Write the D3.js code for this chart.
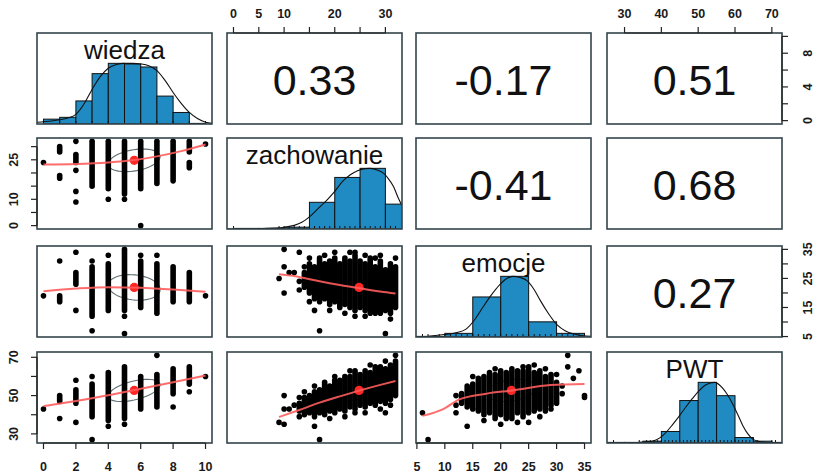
<!DOCTYPE html>
<html><head><meta charset="utf-8">
<script src="https://cdn.jsdelivr.net/npm/d3@7"></script>
<style>body{margin:0;background:#fff}svg{display:block}</style>
</head><body><svg id="c" width="814" height="476"></svg>
<script>
// ---------------- DATA ----------------
const variables = ["wiedza", "zachowanie", "emocje", "PWT"];
const dataRanges = [[0, 10], [0, 32], [6, 35], [27, 71]];
const means = [5.6, 24.8, 21.9, 52.7];
const sds = [1.6, 4.3, 4.4, 5.8];
const correlations = [
  [1, 0.33, -0.17, 0.51],
  [0.33, 1, -0.41, 0.68],
  [-0.17, -0.41, 1, 0.27],
  [0.51, 0.68, 0.27, 1]
];

// histograms (bar heights normalised to max = 1), density curves, rugs
const wiedzaBreaks = [0,1,2,3,4,5,6,7,8,9,10];
const wiedzaBars = [0.08,0.11,0.38,0.83,1.0,0.99,0.94,0.46,0.19,0.01];
const wiedzaDensity = [[-0.4,0.03],[0.5,0.05],[1,0.07],[1.5,0.1],[2,0.16],[2.5,0.33],[3,0.57],[3.5,0.78],[4,0.92],[4.5,0.98],[5,1.0],[5.5,1.0],[6,0.99],[6.5,0.96],[7,0.88],[7.5,0.72],[8,0.52],[8.5,0.34],[9,0.19],[9.5,0.09],[10,0.03],[10.4,0.01]];
const wiedzaRug = [0,1,2,3,4,5,6,7,8,9,10];

const zachBreaks = [0,5,10,15,20,25,30,35];
const zachBars = [0.01,0.01,0.03,0.44,0.85,1.0,0.41];
const zachDensity = [[-1.3,0],[5,0.005],[8,0.015],[10,0.03],[12,0.06],[13.5,0.11],[15,0.2],[16.5,0.32],[18.5,0.48],[20,0.62],[21.5,0.78],[23,0.89],[24.5,0.96],[26,0.995],[27,1.0],[28.5,0.97],[29.6,0.92],[30.5,0.84],[31.6,0.7],[32.5,0.52],[33.3,0.38]];
const zachRug = [0,9,10,11,12,13,14,15,16,17,18,19,20,21,22,23,24,25,26,27,28,29,30,31,32];

const emoBreaks = [5,10,15,20,25,30,35];
const emoBars = [0.01,0.06,0.66,1.0,0.25,0.06];
const emoDensity = [[4.8,0],[7,0.01],[9.9,0.04],[12,0.07],[13.8,0.13],[15.3,0.28],[16.8,0.49],[18.3,0.69],[19.8,0.86],[21,0.96],[22.2,1.0],[23.5,0.98],[24.7,0.93],[26,0.78],[27.1,0.6],[28.6,0.38],[30.1,0.2],[31.6,0.1],[33.1,0.05],[36.2,0.01]];
const emoRug = [6,7,9,10,11,12,13,14,15,16,17,18,19,20,21,22,23,24,25,26,27,28,29,30,31,32,33,34,35];

const pwtBreaks = [25,30,35,40,45,50,55,60,65,70,75];
const pwtBars = [0.01,0.01,0.03,0.19,0.7,1.0,0.78,0.09,0.03,0.01];
const pwtDensity = [[25,0],[32,0.005],[35,0.015],[37.5,0.03],[39.5,0.08],[41.2,0.17],[43,0.3],[44.8,0.44],[46.6,0.59],[48.4,0.73],[50.2,0.86],[52.1,0.96],[54.4,1.0],[56.7,0.9],[58,0.79],[59.4,0.64],[60.8,0.46],[62.1,0.29],[63.5,0.15],[64.9,0.06],[67,0.02],[70.4,0],[72.8,0]];
const pwtRug = [27,34,36,37,38,39,40,41,42,43,44,45,46,47,48,49,50,51,52,53,54,55,56,57,58,59,60,61,62,63,64,65,66,70,71];

// scatter panels: stacks [x, yLow, yHigh] of overlapping points, single points [x, y], loess smooth
const wzStacks = [[3,15,32],[4,14,32],[5,12,32],[6,14,32],[7,16,32],[8,17,32],[9,28,32],[9,22,24],[2,24,27],[1,18,19],[1,28,30]];
const wzPoints = [[0,24],[2,32],[2,21],[2,13],[2,9],[4,10],[5,10],[6,0],[10,31]];
const wzSmooth = [[0,23.2],[2,23.4],[4,24],[5.6,24.9],[7,26.3],[8.5,28.3],[10,30.8]];

const weStacks = [[2,23,27],[3,12,29],[4,14,30],[5,14,35],[6,15,31],[7,13,30],[8,17,29],[9,17,27],[1,17,19]];
const wePoints = [[0,19],[1,31],[2,34],[2,14],[3,31],[3,7],[4,33],[5,12],[5,6],[6,33],[7,33],[10,19]];
const weSmooth = [[0,20.6],[2,21.5],[4,22],[6,21.8],[8,21.2],[10,20.4]];

const wpStacks = [[1,47,50],[2,46,53],[3,39,56],[4,37,62],[5,38,65],[6,43,60],[7,44,61],[8,51,64],[9,56,65]];
const wpPoints = [[0,43],[1,38],[2,58],[2,36],[3,60],[3,27],[4,34],[5,35],[7,71],[8,44],[9,52],[10,60]];
const wpSmooth = [[0,44.5],[2,47.2],[4,50.2],[6,53.6],[8,57],[10,60.5]];

const zeStacks = [[14,22,27],[15,20,30],[16,18,29],[17,17,32],[18,18,30],[19,16,31],[20,17,32],[21,15,30],[22,16,32],[23,15,31],[24,14,33],[25,15,31],[26,14,30],[27,13,32],[28,14,29],[29,13,31],[30,14,28],[31,13,30],[32,15,29]];
const zePoints = [[10,35],[13,34],[10,29],[11,27],[9,25],[10,20],[13,21],[14,29],[16,14],[17,7],[24,34],[28,32],[32,32],[24,12],[30,6],[28,13],[18,33],[15,17],[19,14],[22,13],[26,12],[31,11],[20,34],[23,34],[26,33],[29,33],[15,32],[12,27],[13,24]];
const zeSmooth = [[9,26.4],[13,25.5],[17,24],[21,22.7],[25,21.6],[29,20.5],[32,19.8]];

const zpStacks = [[13,42,46],[14,40,49],[15,41,50],[16,39,52],[17,41,53],[18,40,56],[19,42,55],[20,41,58],[21,43,58],[22,42,60],[23,44,60],[24,43,62],[25,45,61],[26,44,63],[27,46,62],[28,45,64],[29,47,65],[30,46,64],[31,48,66],[32,50,68]];
const zpPoints = [[9,36],[10,35],[10,50],[10,43],[11,43],[13,49],[13,39],[16,34],[17,27],[32,71],[28,65],[24,63],[18,57],[30,41],[24,41],[12,45],[14,52],[16,55],[19,38],[22,39],[26,41],[29,43],[31,45],[20,60],[23,63],[27,66],[30,68]];
const zpSmooth = [[9,38.8],[13,42.5],[17,46.3],[21,49.6],[25,52.7],[29,55.6],[32,57.6]];

const epStacks = [[13,46,51],[14,44,55],[15,43,56],[16,42,59],[17,40,60],[18,41,62],[19,38,61],[20,40,63],[21,39,62],[22,38,64],[23,41,63],[24,39,63],[25,41,65],[26,42,62],[27,43,63],[28,42,60],[29,45,61],[30,46,57]];
const epPoints = [[6,41],[7,27],[12,45],[12,41],[13,48],[14,34],[16,43],[20,35],[21,38],[25,36],[29,43],[31,51],[32,71],[32,65],[34,63],[33,59],[35,49],[35,50],[24,65],[28,64],[12,50],[15,60],[17,37],[23,36],[27,39],[30,61],[31,55],[26,66],[19,64]];
const epSmooth = [[6,39.4],[9.6,42.8],[12.6,48],[17.4,51],[22.1,52.7],[28.9,55.5],[35,56.1]];

// axes: tick values and shown labels
const wiedzaBottomTicks = [0,2,4,6,8,10];
const wiedzaBottomLabels = ["0","2","4","6","8","10"];
const emoBottomTicks = [5,10,15,20,25,30,35];
const emoBottomLabels = ["5","10","15","20","25","30","35"];
const zachTopTicks = [0,5,10,15,20,25,30];
const zachTopLabels = ["0","5","10","","20","","30"];
const pwtTopTicks = [30,40,50,60,70];
const pwtTopLabels = ["30","40","50","60","70"];
const zachLeftTicks = [0,5,10,15,20,25,30];
const zachLeftLabels = ["0","","10","","","25",""];
const pwtLeftTicks = [30,40,50,60,70];
const pwtLeftLabels = ["30","","50","","70"];
const wiedzaRightTicks = [0,2,4,6,8,10];
const wiedzaRightLabels = ["0","","4","","8",""];
const emoRightTicks = [5,10,15,20,25,30,35];
const emoRightLabels = ["5","","15","","25","","35"];

// ---------------- LAYOUT / STYLE ----------------
const colLeft = [37, 227, 416, 607], rowTop = [33, 138, 246, 352];
const PW = 175, PH = 91;
const FONT = "'Liberation Sans', Arial, Helvetica, sans-serif";
const HIST_COL = "#1f8bc2", BOX_COL = "#34454c", RED = "#ff2626", SMOOTH_COL = "#ff5c5c";

const svg = d3.select("#c");
svg.append("rect").attr("width", 814).attr("height", 476).attr("fill", "#fff");

function usr(r) { const d = r[1] - r[0]; return [r[0] - 0.04 * d, r[1] + 0.04 * d]; }
const xScales = dataRanges.map((r, j) => d3.scaleLinear().domain(usr(r)).range([colLeft[j], colLeft[j] + PW]));
const yScales = dataRanges.map((r, i) => d3.scaleLinear().domain(usr(r)).range([rowTop[i] + PH, rowTop[i]]));
const hScales = rowTop.map(t => d3.scaleLinear().domain([0, 1.5]).range([t + PH, t]));

const defs = svg.append("defs");
for (let i = 0; i < 4; i++) for (let j = 0; j < 4; j++) {
  defs.append("clipPath").attr("id", `clip${i}${j}`).append("rect")
    .attr("x", colLeft[j]).attr("y", rowTop[i]).attr("width", PW).attr("height", PH);
}

// ---------- histograms ----------
const hists = [
  { breaks: wiedzaBreaks, bars: wiedzaBars, density: wiedzaDensity, rug: wiedzaRug },
  { breaks: zachBreaks, bars: zachBars, density: zachDensity, rug: zachRug },
  { breaks: emoBreaks, bars: emoBars, density: emoDensity, rug: emoRug },
  { breaks: pwtBreaks, bars: pwtBars, density: pwtDensity, rug: pwtRug }
];
hists.forEach((h, k) => {
  const xs = xScales[k], hs = hScales[k];
  const g = svg.append("g").attr("clip-path", `url(#clip${k}${k})`);
  g.selectAll("rect").data(h.bars).join("rect")
    .attr("x", (d, n) => xs(h.breaks[n]))
    .attr("width", (d, n) => xs(h.breaks[n + 1]) - xs(h.breaks[n]))
    .attr("y", d => hs(d)).attr("height", d => hs(0) - hs(d))
    .attr("fill", HIST_COL).attr("stroke", "#111").attr("stroke-width", 1);
  g.selectAll("line.rug").data(h.rug).join("line").attr("class", "rug")
    .attr("x1", d => xs(d)).attr("x2", d => xs(d))
    .attr("y1", hs(0)).attr("y2", hs(0) - 3)
    .attr("stroke", "#111").attr("stroke-width", 1);
  g.append("path").datum(h.density)
    .attr("d", d3.line().x(d => xs(d[0])).y(d => hs(d[1])).curve(d3.curveMonotoneX))
    .attr("fill", "none").attr("stroke", "#111").attr("stroke-width", 1.1);
  svg.append("text").attr("x", colLeft[k] + PW / 2).attr("y", rowTop[k] + 26)
    .attr("text-anchor", "middle").attr("font-family", FONT).attr("font-size", 26)
    .attr("fill", "#111").text(variables[k]);
});

// ---------- scatter panels ----------
const scatterPanels = [
  { i: 1, j: 0, stacks: wzStacks, points: wzPoints, smooth: wzSmooth },
  { i: 2, j: 0, stacks: weStacks, points: wePoints, smooth: weSmooth },
  { i: 3, j: 0, stacks: wpStacks, points: wpPoints, smooth: wpSmooth },
  { i: 2, j: 1, stacks: zeStacks, points: zePoints, smooth: zeSmooth },
  { i: 3, j: 1, stacks: zpStacks, points: zpPoints, smooth: zpSmooth },
  { i: 3, j: 2, stacks: epStacks, points: epPoints, smooth: epSmooth }
];
const R = 2.8;
scatterPanels.forEach(p => {
  const xs = xScales[p.j], ys = yScales[p.i];
  const g = svg.append("g").attr("clip-path", `url(#clip${p.i}${p.j})`);
  // correlation ellipse (psych::draw.ellipse), drawn beneath the points
  const r = correlations[p.i][p.j];
  const th = (r >= 0 ? 1 : -1) / Math.SQRT2;
  const a1 = Math.sqrt(1 + r) * th, a2 = Math.sqrt(1 - r) * th;
  const ell = d3.range(0, 52).map(s => {
    const a = s * 2 * Math.PI / 51;
    const ex = Math.cos(a) * a1 - Math.sin(a) * a2;
    const ey = Math.cos(a) * a1 + Math.sin(a) * a2;
    return [means[p.j] + ex * sds[p.j], means[p.i] + ey * sds[p.i]];
  });
  g.append("path").datum(ell)
    .attr("d", d3.line().x(d => xs(d[0])).y(d => ys(d[1])))
    .attr("fill", "none").attr("stroke", "#5f6f74").attr("stroke-width", 1.1);
  g.selectAll("line.st").data(p.stacks).join("line").attr("class", "st")
    .attr("x1", d => xs(d[0])).attr("x2", d => xs(d[0]))
    .attr("y1", d => ys(d[1])).attr("y2", d => ys(d[2]))
    .attr("stroke", "#000").attr("stroke-width", 2 * R).attr("stroke-linecap", "round");
  g.selectAll("circle.pt").data(p.points).join("circle").attr("class", "pt")
    .attr("cx", d => xs(d[0])).attr("cy", d => ys(d[1])).attr("r", R).attr("fill", "#000");
  g.append("circle").attr("cx", xs(means[p.j])).attr("cy", ys(means[p.i])).attr("r", 4.6).attr("fill", RED);
  g.append("path").datum(p.smooth)
    .attr("d", d3.line().x(d => xs(d[0])).y(d => ys(d[1])).curve(d3.curveMonotoneX))
    .attr("fill", "none").attr("stroke", SMOOTH_COL).attr("stroke-width", 2).attr("stroke-opacity", 0.9);
});

// ---------- correlation panels ----------
for (let i = 0; i < 4; i++) for (let j = i + 1; j < 4; j++) {
  svg.append("text").attr("x", colLeft[j] + PW / 2).attr("y", rowTop[i] + PH / 2 + 16)
    .attr("text-anchor", "middle").attr("font-family", FONT).attr("font-size", 43)
    .attr("fill", "#111").text(correlations[i][j].toFixed(2));
}

// ---------- panel boxes ----------
for (let i = 0; i < 4; i++) for (let j = 0; j < 4; j++) {
  svg.append("rect").attr("x", colLeft[j]).attr("y", rowTop[i]).attr("width", PW).attr("height", PH)
    .attr("fill", "none").attr("stroke", BOX_COL).attr("stroke-width", 1.6);
}

// ---------- axes ----------
function drawAxis(side, scale, ticks, labels, pos) {
  const g = svg.append("g");
  const vertical = side === "left" || side === "right";
  const dir = (side === "top" || side === "left") ? -1 : 1;
  const tl = 6;
  const p0 = scale(ticks[0]), p1 = scale(ticks[ticks.length - 1]);
  if (vertical) g.append("line").attr("x1", pos).attr("x2", pos).attr("y1", p0).attr("y2", p1);
  else g.append("line").attr("y1", pos).attr("y2", pos).attr("x1", p0).attr("x2", p1);
  ticks.forEach((t, n) => {
    const q = scale(t);
    if (vertical) g.append("line").attr("x1", pos).attr("x2", pos + dir * tl).attr("y1", q).attr("y2", q);
    else g.append("line").attr("y1", pos).attr("y2", pos + dir * tl).attr("x1", q).attr("x2", q);
    if (!labels[n]) return;
    const txt = g.append("text").attr("font-family", FONT).attr("font-size", 12.5).attr("font-weight", "bold")
      .attr("fill", "#1a1a1a").attr("text-anchor", "middle").text(labels[n]);
    if (side === "top") txt.attr("x", q).attr("y", pos - 15.5);
    else if (side === "bottom") txt.attr("x", q).attr("y", pos + 28);
    else if (side === "left") txt.attr("transform", `translate(${pos - 19.5},${q}) rotate(-90)`);
    else txt.attr("transform", `translate(${pos + 30},${q}) rotate(-90)`);
  });
  g.selectAll("line").attr("stroke", "#222").attr("stroke-width", 1.2);
}
drawAxis("bottom", xScales[0], wiedzaBottomTicks, wiedzaBottomLabels, rowTop[3] + PH);
drawAxis("bottom", xScales[2], emoBottomTicks, emoBottomLabels, rowTop[3] + PH);
drawAxis("top", xScales[1], zachTopTicks, zachTopLabels, rowTop[0]);
drawAxis("top", xScales[3], pwtTopTicks, pwtTopLabels, rowTop[0]);
drawAxis("left", yScales[1], zachLeftTicks, zachLeftLabels, colLeft[0]);
drawAxis("left", yScales[3], pwtLeftTicks, pwtLeftLabels, colLeft[0]);
drawAxis("right", yScales[0], wiedzaRightTicks, wiedzaRightLabels, colLeft[3] + PW);
drawAxis("right", yScales[2], emoRightTicks, emoRightLabels, colLeft[3] + PW);
</script>
</body></html>
